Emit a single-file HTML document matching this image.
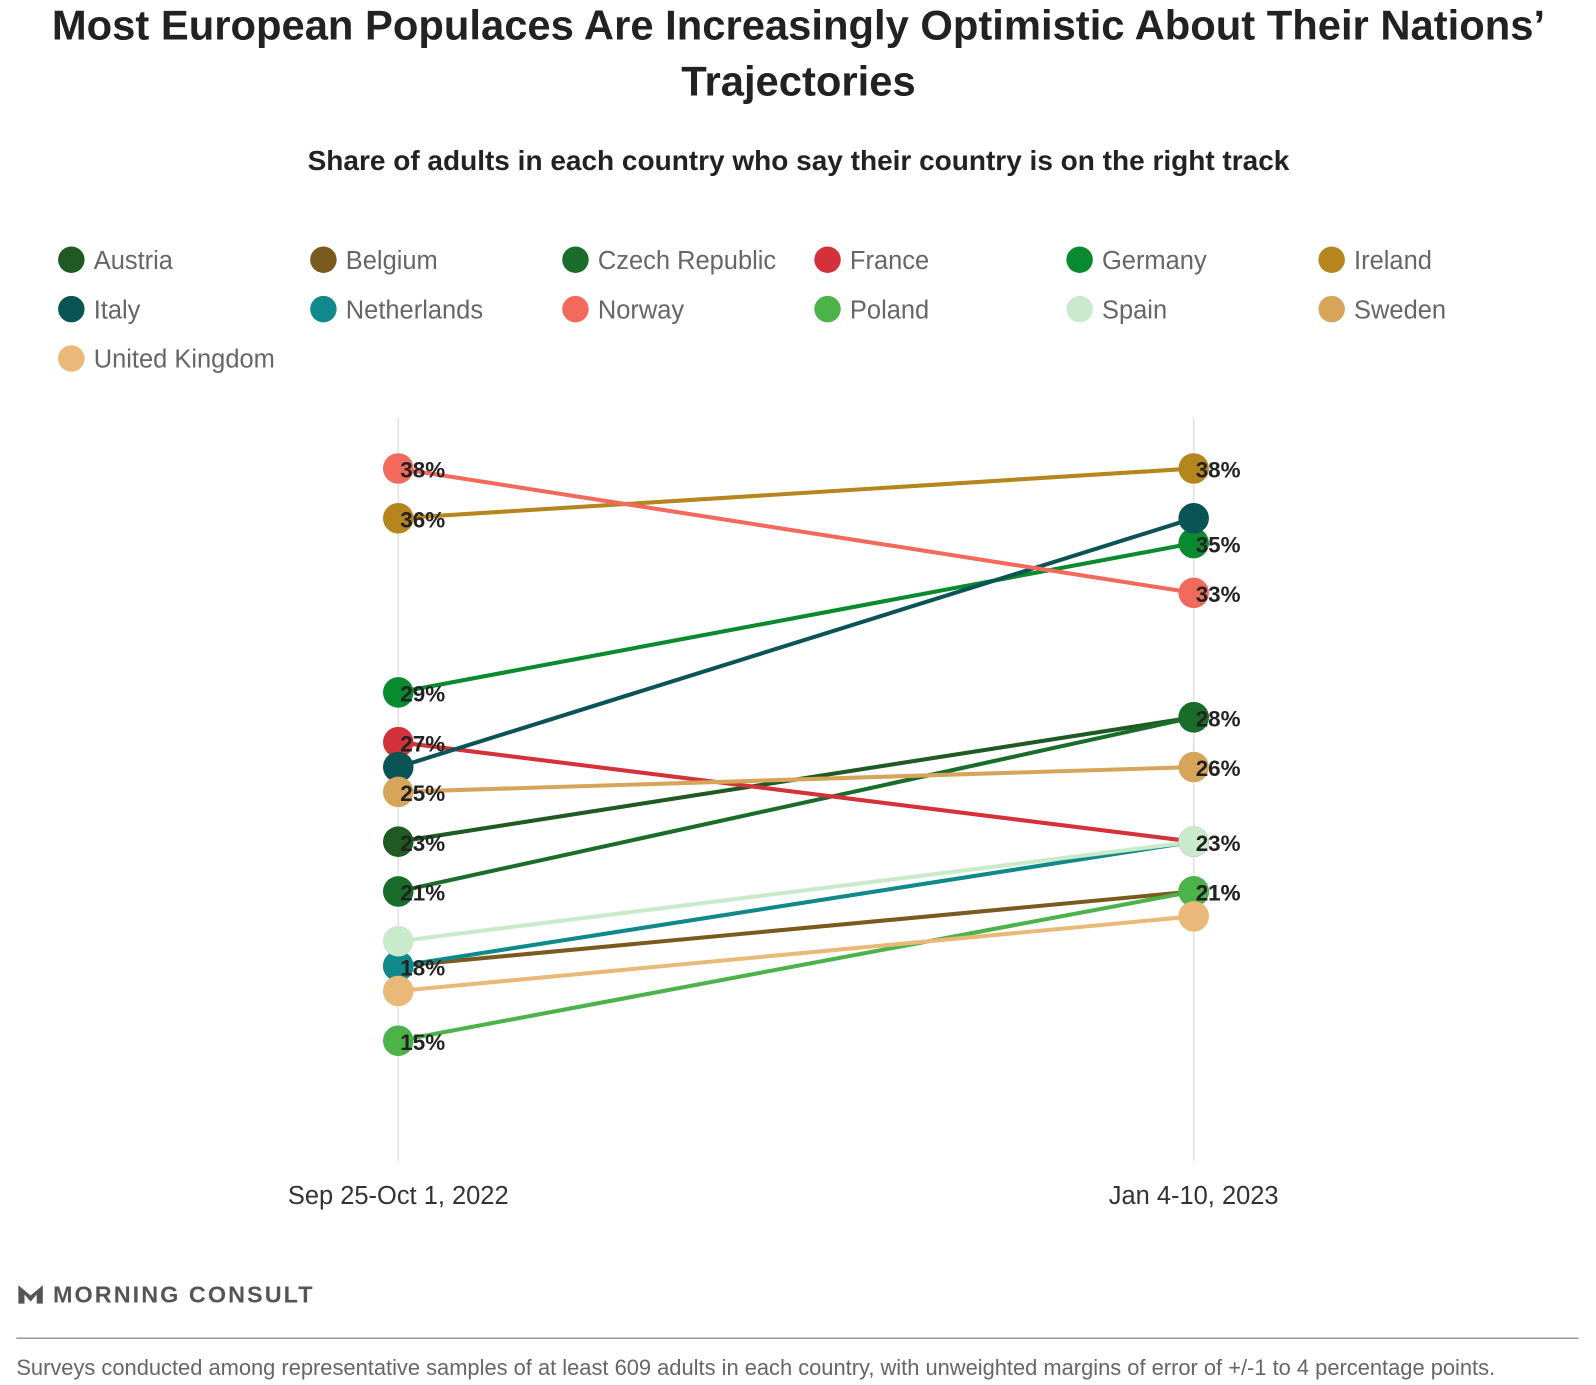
<!DOCTYPE html>
<html><head><meta charset="utf-8"><style>
body{margin:0;background:#fff;width:1596px;height:1380px;overflow:hidden;font-family:"Liberation Sans",sans-serif}
</style></head><body>
<svg width="1596" height="1380" viewBox="0 0 1567 1355" xmlns="http://www.w3.org/2000/svg">
<text x="784" y="39" text-anchor="middle" font-size="41" font-weight="bold" fill="#222">Most European Populaces Are Increasingly Optimistic About Their Nations’</text>
<text x="784" y="94" text-anchor="middle" font-size="41" font-weight="bold" fill="#222">Trajectories</text>
<text x="784" y="167" text-anchor="middle" font-size="27.5" font-weight="bold" fill="#222">Share of adults in each country who say their country is on the right track</text>
<g id="legend"></g>
<line x1="391" y1="410" x2="391" y2="1140" stroke="#e2e2e2" stroke-width="1.5"/>
<line x1="1172" y1="410" x2="1172" y2="1140" stroke="#e2e2e2" stroke-width="1.5"/>
<g id="plot"></g>
<text x="391" y="1182" text-anchor="middle" font-size="25" fill="#333">Sep 25-Oct 1, 2022</text>
<text x="1172" y="1182" text-anchor="middle" font-size="25" fill="#333">Jan 4-10, 2023</text>
<g>
<path d="M18 1262 L18 1280 L24 1280 L24 1271 L30 1278 L36 1271 L36 1280 L42 1280 L42 1262 L30 1272 Z" fill="#555"/>
<text x="52" y="1279" font-size="23" font-weight="bold" fill="#555" letter-spacing="2">MORNING CONSULT</text>
</g>
<line x1="16" y1="1314" x2="1550" y2="1314" stroke="#999" stroke-width="1.5"/>
<text x="16" y="1350" font-size="21.5" fill="#666">Surveys conducted among representative samples of at least 609 adults in each country, with unweighted margins of error of +/-1 to 4 percentage points.</text>
</svg>
<script>
const countries=["Austria","Belgium","Czech Republic","France","Germany","Ireland","Italy","Netherlands","Norway","Poland","Spain","Sweden","United Kingdom"];
const colors=["#1e5a22","#7a5a1e","#196c2a","#d3323a","#0a8a2e","#b5861e","#0b5456","#10898a","#f26a5c","#4cb24a","#c9eacb","#d6a55a","#eab979"];
const sepValues=[23,18,21,27,29,36,26,18,38,15,19,25,17];
const janValues=[28,21,28,23,35,38,36,23,33,21,23,26,20];
const sepLabelShown=[1,0,1,1,1,1,0,1,1,1,0,1,0];
const janLabelShown=[1,1,0,0,1,1,0,0,1,1,1,1,0];
const NS="http://www.w3.org/2000/svg";
const xSep=391,xJan=1172;
function y(v){return 460+(38-v)*24.43;}
const lg=document.getElementById('legend');
countries.forEach((c,i)=>{
  const cx=70+(i%6)*247.5, cy=255+Math.floor(i/6)*48.5;
  const g=document.createElementNS(NS,'g');
  
  
  const ci=document.createElementNS(NS,'circle');
  ci.setAttribute('cx',cx);ci.setAttribute('cy',cy);ci.setAttribute('r',13);ci.setAttribute('fill',colors[i]);
  const t=document.createElementNS(NS,'text');
  t.setAttribute('x',cx+22);t.setAttribute('y',cy+9);t.setAttribute('font-size','25');t.setAttribute('fill','#666');
  t.textContent=c;
  g.appendChild(ci);g.appendChild(t);lg.appendChild(g);
});
const plot=document.getElementById('plot');
countries.forEach((c,i)=>{
  const l=document.createElementNS(NS,'line');
  
  
  l.setAttribute('x1',xSep);l.setAttribute('y1',y(sepValues[i]));
  l.setAttribute('x2',xJan);l.setAttribute('y2',y(janValues[i]));
  l.setAttribute('stroke',colors[i]);l.setAttribute('stroke-width','4');
  plot.appendChild(l);
});
function dot(x,v,i,name){
  const ci=document.createElementNS(NS,'circle');
  
  
  ci.setAttribute('cx',x);ci.setAttribute('cy',y(v));ci.setAttribute('r',15);ci.setAttribute('fill',colors[i]);
  plot.appendChild(ci);
}
countries.forEach((c,i)=>{
  dot(xSep,sepValues[i],i,'point-sep-'+c.toLowerCase().replace(/ /g,'-'));
  dot(xJan,janValues[i],i,'point-jan-'+c.toLowerCase().replace(/ /g,'-'));
});
function lab(x,v,name){
  const t=document.createElementNS(NS,'text');
  
  
  t.setAttribute('x',x+2);t.setAttribute('y',y(v)+9);t.setAttribute('font-size','22');t.setAttribute('font-weight','bold');t.setAttribute('fill','#222');
  t.textContent=v+'%';plot.appendChild(t);
}
countries.forEach((c,i)=>{
  if(sepLabelShown[i])lab(xSep,sepValues[i],'value-label-sep');
  if(janLabelShown[i])lab(xJan,janValues[i],'value-label-jan');
});
</script>
</body></html>
